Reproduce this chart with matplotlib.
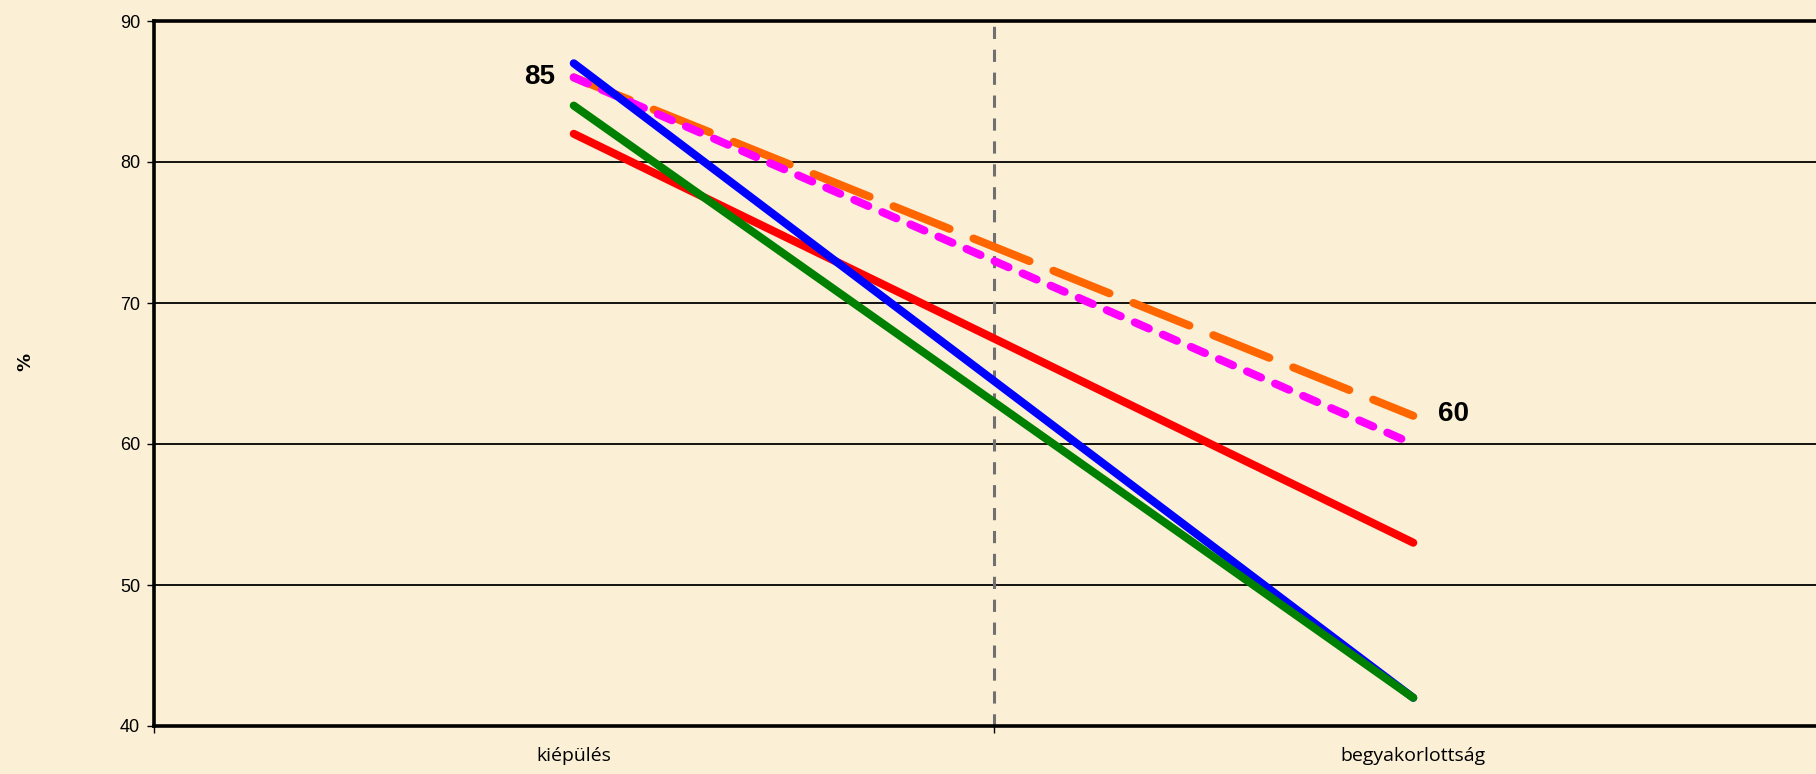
import numpy as np
import matplotlib.pyplot as plt
from matplotlib import font_manager

categories = ["kiépülés", "begyakorlottság"]
blue = [87, 42]
green = [84, 42]
red = [82, 53]
orange = [86, 62]
magenta = [86, 60]

bg = "#FBEFD6"
x = np.arange(len(categories))

names = {f.name for f in font_manager.fontManager.ttflist}
num_font = "Liberation Sans Narrow" if "Liberation Sans Narrow" in names else "Liberation Sans"

fig = plt.figure(figsize=(18.16, 7.74), dpi=100, facecolor=bg)
ax = fig.add_axes([154 / 1816, 48 / 774, 1679 / 1816, 705 / 774])
ax.set_facecolor(bg)

ax.set_xlim(-0.5, 1.5)
ax.set_ylim(40, 90)

# grid
for v in [50, 60, 70, 80]:
    ax.axhline(v, color="black", lw=1.3, zorder=1)
ax.axvline(0.5, color="#707070", lw=2.2, dashes=(4, 3.5), zorder=1)

lw = 5.8
ax.plot(x, red, color="#FF0000", lw=lw, solid_capstyle="round", zorder=3)
ax.plot(x, orange, color="#FF6600", lw=lw, dash_capstyle="round",
        dashes=(7.5, 3.2), zorder=3)
ax.plot(x, magenta, color="#FF00FF", lw=lw, dash_capstyle="round",
        dashes=(1.9, 1.9), zorder=4)
ax.plot(x, blue, color="#0000FF", lw=lw, solid_capstyle="round", zorder=5)
ax.plot(x, green, color="#008000", lw=lw, solid_capstyle="round", zorder=6)

ax.text(-0.022, 86, "85", ha="right", va="center", fontsize=20,
        fontweight="bold", family=num_font)
ax.text(1.03, 62.1, "60", ha="left", va="center", fontsize=20,
        fontweight="bold", family=num_font)

# axes frame
for s in ["left", "top", "bottom"]:
    ax.spines[s].set_linewidth(2.6)
    ax.spines[s].set_color("black")
ax.spines["right"].set_visible(False)

ax.set_yticks([40, 50, 60, 70, 80, 90])
ax.tick_params(axis="y", length=5, width=1, pad=5, labelsize=13)
for t in ax.get_yticklabels():
    t.set_family("Liberation Sans")

ax.set_xticks([-0.5, 0.5, 1.5])
ax.set_xticklabels([])
ax.tick_params(axis="x", which="major", length=5, width=1)
ax.set_xticks(x, minor=True)
ax.set_xticklabels(categories, minor=True, fontsize=14, family="Open Sans",
                   fontweight="medium")
ax.tick_params(axis="x", which="minor", length=0, pad=15)

fig.text(25 / 1816, 1 - 362 / 774, "%", rotation=90, ha="center", va="center",
         fontsize=13, fontweight="bold", family="DejaVu Sans")

fig.savefig("out.png", dpi=100, facecolor=bg)
